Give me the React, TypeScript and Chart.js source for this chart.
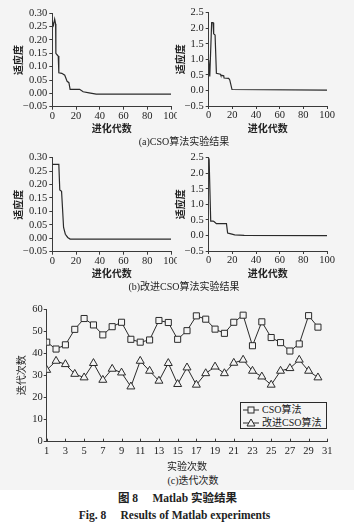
import React, { useEffect, useRef } from 'react';
import { Chart, registerables } from 'chart.js';

Chart.register(...registerables);

// ---------- data ----------
// (a) CSO algorithm, left: fitness vs generation (breakpoints)
const aLeftGen = [0, 1, 2, 2.8, 3, 4.5, 5, 5.5, 8, 10.5, 12.5, 14, 15, 23, 26, 31, 37, 100];
const aLeftFit = [0.27, 0.255, 0.278, 0.26, 0.15, 0.142, 0.14, 0.077, 0.075, 0.068, 0.045, 0.04, 0.015, 0.015, 0.006, 0.002, -0.003, -0.003];
// (a) CSO algorithm, right
const aRightGen = [0, 0.9, 2.5, 3.7, 4.2, 5.4, 6.5, 9.9, 10.2, 12.7, 13, 16.9, 17.8, 19.7, 100];
const aRightFit = [0.98, 0.45, 2.18, 2.18, 1.82, 1.78, 0.55, 0.52, 0.49, 0.47, 0.4, 0.39, 0.34, 0.03, 0.01];
// (b) improved CSO, left
const bLeftGen = [0, 5.5, 6.3, 7.8, 8.5, 9.5, 11, 13, 15, 100];
const bLeftFit = [0.275, 0.275, 0.18, 0.175, 0.12, 0.04, 0.015, 0.003, -0.003, -0.003];
// (b) improved CSO, right
const bRightGen = [0, 0.4, 1.7, 3.7, 4.5, 6.5, 15, 16, 18, 22, 30, 100];
const bRightFit = [2.3, 2.37, 0.46, 0.46, 0.45, 0.38, 0.38, 0.08, 0.06, 0.02, 0.0, -0.005];

// (c) iteration counts per experiment
const runIndex = [1, 2, 3, 4, 5, 6, 7, 8, 9, 10, 11, 12, 13, 14, 15, 16, 17, 18, 19, 20, 21, 22, 23, 24, 25, 26, 27, 28, 29, 30];
const csoIters = [45.0, 41.9, 43.8, 50.8, 55.7, 52.8, 48.3, 52.0, 54.0, 46.3, 45.0, 46.0, 54.8, 53.9, 46.3, 50.2, 56.9, 55.4, 50.9, 49.0, 54.0, 57.2, 43.4, 54.2, 47.1, 44.8, 41.0, 44.2, 57.0, 51.8];
const improvedIters = [32.4, 36.5, 35.0, 30.6, 29.0, 35.5, 27.9, 32.9, 31.2, 24.9, 36.5, 32.0, 27.5, 35.5, 26.0, 33.5, 25.7, 30.9, 33.9, 30.9, 35.6, 37.0, 32.0, 29.4, 25.7, 32.0, 33.2, 37.0, 32.0, 29.0];

// labels
const fitnessTitle = '适应度';
const generationTitle = '进化代数';
const runTitle = '实验次数';
const iterTitle = '迭代次数';
const seriesNames = ['CSO算法', '改进CSO算法'];
const captionA = '(a)CSO算法实验结果';
const captionB = '(b)改进CSO算法实验结果';
const captionC = '(c)迭代次数';
const figTitleCn = '图 8\u2003 Matlab 实验结果';
const figTitleEn = 'Fig. 8\u2003 Results of Matlab experiments';

// ---------- styles ----------
const SERIF = '"Liberation Serif", "Times New Roman", serif';
const CJK = '"Noto Sans CJK SC", sans-serif';
const MIXED = '"Liberation Serif", "Noto Sans CJK SC", serif';
const LINE = '#2a2a2a';
const AX = '#3a3a3a';
const TXT = '#222';
const BG = '#f4f4f4';

type R = { left: number; top: number; w: number; h: number };
type P = { x1: number; y1: number; x2: number; y2: number };

function fmt(v: number, d: number) {
  const r = Number(v.toFixed(d));
  if (r < 0) return '\u2212' + Math.abs(r).toFixed(d);
  return Math.abs(r).toFixed(d);
}

function baseScales(rect: R, plot: P) {
  return {
    fitX: (s: any) => {
      s.height = rect.top + rect.h - plot.y2;
      s.paddingLeft = 0;
      s.paddingRight = 0;
    },
    fitY: (s: any) => {
      s.width = plot.x1 - rect.left;
      s.paddingTop = 0;
      s.paddingBottom = 0;
    },
    padding: { left: 0, top: plot.y1 - rect.top, right: rect.left + rect.w - plot.x2, bottom: 0 },
  };
}

const titleFont = { family: CJK, size: 10, weight: 'bold' as const };

function smallConfig(rect: R, plot: P, xs: number[], ys: number[], yMin: number, yMax: number, yStep: number, dec: number, yTitlePad: number) {
  const b = baseScales(rect, plot);
  return {
    type: 'line',
    data: {
      datasets: [
        {
          data: xs.map((x, i) => ({ x, y: ys[i] })),
          borderColor: LINE,
          borderWidth: 1.2,
          pointRadius: 0,
          tension: 0,
          fill: false,
        },
      ],
    },
    options: {
      animation: false,
      responsive: true,
      maintainAspectRatio: false,
      layout: { padding: b.padding },
      plugins: { legend: { display: false }, tooltip: { enabled: false } },
      scales: {
        x: {
          type: 'linear',
          min: 0,
          max: 100,
          ticks: { stepSize: 20, autoSkip: false, maxRotation: 0, padding: 0, color: TXT, font: { family: SERIF, size: 10.5 } },
          grid: { display: true, drawOnChartArea: false, drawTicks: true, tickLength: 3, color: AX },
          border: { display: true, color: AX, width: 1 },
          title: { display: true, text: generationTitle, color: TXT, font: titleFont, padding: { top: 0, bottom: 0 } },
          afterFit: b.fitX,
        },
        y: {
          type: 'linear',
          min: yMin,
          max: yMax,
          ticks: { stepSize: yStep, autoSkip: false, padding: 2, color: TXT, font: { family: SERIF, size: 10.5 }, callback: (v: number) => fmt(v, dec) },
          grid: { display: true, drawOnChartArea: false, drawTicks: true, tickLength: 3, color: AX },
          border: { display: true, color: AX, width: 1 },
          title: { display: true, text: fitnessTitle, color: TXT, font: titleFont, padding: { top: yTitlePad, bottom: 0 } },
          afterFit: b.fitY,
        },
      },
    },
  };
}

const innerXTicks = {
  id: 'innerXTicks',
  afterDraw(chart: any) {
    const s = chart.scales.x;
    const ctx = chart.ctx;
    ctx.save();
    ctx.strokeStyle = AX;
    ctx.lineWidth = 1;
    s.ticks.forEach((t: any) => {
      const px = Math.round(s.getPixelForValue(t.value)) + 0.5;
      ctx.beginPath();
      ctx.moveTo(px, s.top);
      ctx.lineTo(px, s.top - 3);
      ctx.stroke();
    });
    ctx.restore();
  },
};

function iterConfig(rect: R, plot: P) {
  const b = baseScales(rect, plot);
  const mk = (vals: number[]) => runIndex.map((x, i) => ({ x, y: vals[i] }));
  return {
    type: 'line',
    data: {
      datasets: [
        {
          label: seriesNames[0],
          data: mk(csoIters),
          borderColor: LINE,
          borderWidth: 1,
          pointStyle: 'rect',
          pointRadius: 4.3,
          pointBorderWidth: 1,
          pointBorderColor: LINE,
          pointBackgroundColor: BG,
          tension: 0,
        },
        {
          label: seriesNames[1],
          data: mk(improvedIters),
          borderColor: LINE,
          borderWidth: 1,
          pointStyle: 'triangle',
          pointRadius: 4.6,
          pointBorderWidth: 1,
          pointBorderColor: LINE,
          pointBackgroundColor: BG,
          tension: 0,
        },
      ],
    },
    plugins: [innerXTicks],
    options: {
      animation: false,
      responsive: true,
      maintainAspectRatio: false,
      layout: { padding: b.padding },
      plugins: { legend: { display: false }, tooltip: { enabled: false } },
      scales: {
        x: {
          type: 'linear',
          min: 1,
          max: 31,
          ticks: { stepSize: 2, autoSkip: false, maxRotation: 0, padding: 3, color: TXT, font: { family: SERIF, size: 10.5 } },
          grid: { display: false, drawTicks: false },
          border: { display: true, color: AX, width: 1 },
          title: { display: true, text: runTitle, color: TXT, font: { family: CJK, size: 10 }, padding: { top: 0, bottom: 0 } },
          afterFit: b.fitX,
        },
        y: {
          type: 'linear',
          min: 0,
          max: 60,
          ticks: { stepSize: 10, autoSkip: false, padding: 1, color: TXT, font: { family: SERIF, size: 10.5 } },
          grid: { display: true, drawOnChartArea: false, drawTicks: true, tickLength: 3, color: AX },
          border: { display: true, color: AX, width: 1 },
          title: { display: true, text: iterTitle, color: TXT, font: { family: CJK, size: 10 }, padding: { top: 15.7, bottom: 0 } },
          afterFit: b.fitY,
        },
      },
    },
  };
}

function ChartBox({ rect, make }: { rect: R; make: () => any }) {
  const ref = useRef<HTMLCanvasElement>(null);
  useEffect(() => {
    const chart = new Chart(ref.current as HTMLCanvasElement, make());
    return () => chart.destroy();
  }, []);
  return (
    <div style={{ position: 'absolute', left: rect.left, top: rect.top, width: rect.w, height: rect.h }}>
      <canvas ref={ref} />
    </div>
  );
}

function Caption({ x, y, text, size, bold }: { x: number; y: number; text: string; size: number; bold?: boolean }) {
  return (
    <div
      style={{
        position: 'absolute',
        left: x,
        top: y,
        transform: 'translate(-50%, -50%)',
        whiteSpace: 'nowrap',
        fontFamily: MIXED,
        fontSize: size,
        fontWeight: bold ? 'bold' : 'normal',
        color: TXT,
        lineHeight: 1,
      }}
    >
      {text}
    </div>
  );
}

function LegendIcon({ kind }: { kind: 'rect' | 'tri' }) {
  return (
    <svg width={16} height={10} style={{ display: 'block' }}>
      <line x1={0} y1={5} x2={16} y2={5} stroke={LINE} strokeWidth={1} />
      {kind === 'rect' ? (
        <rect x={5} y={2} width={6} height={6} fill={BG} stroke={LINE} strokeWidth={1} />
      ) : (
        <polygon points="8,1 12,8 4,8" fill={BG} stroke={LINE} strokeWidth={1} />
      )}
    </svg>
  );
}

export default function App() {
  const rAL: R = { left: 0, top: 0, w: 177, h: 134 };
  const pAL: P = { x1: 52.3, y1: 13.3, x2: 171, y2: 106.7 };
  const rAR: R = { left: 170, top: 0, w: 184, h: 134 };
  const pAR: P = { x1: 208.7, y1: 12.7, x2: 327, y2: 106 };
  const rBL: R = { left: 0, top: 145, w: 177, h: 134 };
  const pBL: P = { x1: 52.3, y1: 157.7, x2: 171, y2: 251.7 };
  const rBR: R = { left: 170, top: 145, w: 184, h: 134 };
  const pBR: P = { x1: 208.7, y1: 157.7, x2: 327, y2: 251 };
  const rC: R = { left: 0, top: 295, w: 354, h: 177 };
  const pC: P = { x1: 46.7, y1: 309, x2: 327.3, y2: 441.7 };

  return (
    <div style={{ position: 'absolute', left: 0, top: 0, width: 354, height: 527, background: '#ffffff', overflow: 'hidden' }}>
      <div style={{ position: 'absolute', left: 0, top: 0, width: 354, height: 490, background: BG }} />
      <ChartBox rect={rAL} make={() => smallConfig(rAL, pAL, aLeftGen, aLeftFit, -0.05, 0.3, 0.05, 2, 12.3)} />
      <ChartBox rect={rAR} make={() => smallConfig(rAR, pAR, aRightGen, aRightFit, -0.5, 2.5, 0.5, 1, 4.3)} />
      <ChartBox rect={rBL} make={() => smallConfig(rBL, pBL, bLeftGen, bLeftFit, -0.05, 0.3, 0.05, 2, 12.3)} />
      <ChartBox rect={rBR} make={() => smallConfig(rBR, pBR, bRightGen, bRightFit, -0.5, 2.5, 0.5, 1, 4.3)} />
      <ChartBox rect={rC} make={() => iterConfig(rC, pC)} />

      <Caption x={184} y={142} text={captionA} size={10} />
      <Caption x={184} y={287} text={captionB} size={10} />
      <Caption x={193} y={480.5} text={captionC} size={10} />
      <Caption x={177.5} y={499} text={figTitleCn} size={11.5} bold />
      <Caption x={174.5} y={516} text={figTitleEn} size={11.5} bold />

      <div
        style={{
          position: 'absolute',
          left: 240,
          top: 401.5,
          width: 87,
          height: 27.5,
          boxSizing: 'border-box',
          border: `1px solid ${LINE}`,
          background: BG,
          fontFamily: MIXED,
          fontSize: 10,
          color: TXT,
        }}
      >
        <div style={{ position: 'absolute', left: 2, top: 2, display: 'flex', alignItems: 'center', height: 10, gap: 3 }}>
          <LegendIcon kind="rect" />
          <span style={{ lineHeight: 1, whiteSpace: 'nowrap' }}>{seriesNames[0]}</span>
        </div>
        <div style={{ position: 'absolute', left: 2, top: 15, display: 'flex', alignItems: 'center', height: 10, gap: 3 }}>
          <LegendIcon kind="tri" />
          <span style={{ lineHeight: 1, whiteSpace: 'nowrap' }}>{seriesNames[1]}</span>
        </div>
      </div>
    </div>
  );
}
